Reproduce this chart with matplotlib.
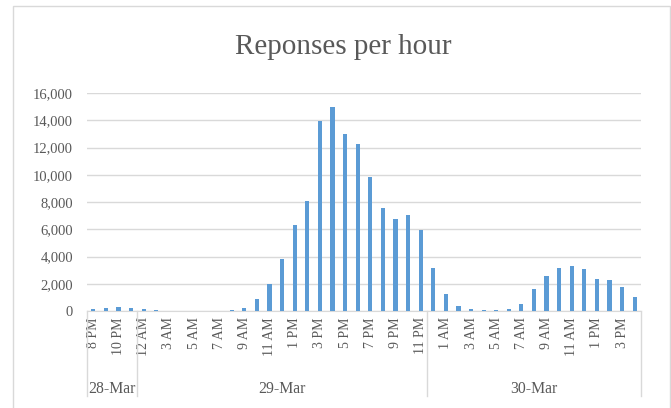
import matplotlib.pyplot as plt
import matplotlib.transforms as mtransforms
from matplotlib.patches import Rectangle
from matplotlib.ticker import FuncFormatter

plt.rcParams['font.family'] = 'Liberation Serif'

# Hourly response counts, grouped by day
dates = ['28-Mar', '29-Mar', '30-Mar']
hours_28 = ['8 PM', '9 PM', '10 PM', '11 PM']
hours_29 = ['12 AM', '1 AM', '3 AM', '4 AM', '5 AM', '6 AM', '7 AM', '8 AM', '9 AM',
            '10 AM', '11 AM', '12 PM', '1 PM', '2 PM', '3 PM', '4 PM', '5 PM', '6 PM',
            '7 PM', '8 PM', '9 PM', '10 PM', '11 PM']
hours_30 = ['12 AM', '1 AM', '2 AM', '3 AM', '4 AM', '5 AM', '6 AM', '7 AM', '8 AM',
            '9 AM', '10 AM', '11 AM', '12 PM', '1 PM', '2 PM', '3 PM', '4 PM']
counts_28 = [120, 220, 300, 220]
counts_29 = [150, 70, 10, 10, 10, 10, 10, 70, 220, 870, 1970, 3800, 6280, 8050,
             13970, 15000, 13000, 12280, 9840, 7550, 6770, 7010, 5980]
counts_30 = [3150, 1220, 400, 180, 110, 110, 160, 530, 1580, 2590, 3120, 3310,
             3090, 2380, 2250, 1730, 1020]

groups = [hours_28, hours_29, hours_30]
labels = hours_28 + hours_29 + hours_30
counts = counts_28 + counts_29 + counts_30
x = list(range(len(labels)))

grey = '#595959'
line_grey = '#D9D9D9'

fig = plt.figure(figsize=(6.71, 4.08), dpi=100)
ax = fig.add_axes([87 / 671, 97 / 408, 554 / 671, 218 / 408])

ax.bar(x, counts, width=0.33, color='#5B9BD5', zorder=3)

ax.set_xlim(-0.5, len(labels) - 0.5)
ax.set_ylim(0, 16000)
ax.set_yticks(range(0, 16001, 2000))
ax.yaxis.set_major_formatter(FuncFormatter(lambda v, p: f'{int(v):,}'))
ax.grid(axis='y', color=line_grey, linewidth=1, zorder=0)

ax.set_xticks(x[::2])
ax.set_xticklabels(labels[::2], rotation=90, va='top')
ax.tick_params(axis='x', length=0, pad=4.5, labelsize=10, labelcolor=grey)
ax.tick_params(axis='y', length=0, pad=10, labelsize=10.5, labelcolor=grey)

for side in ['top', 'right', 'left']:
    ax.spines[side].set_visible(False)
ax.spines['bottom'].set_color(line_grey)

# Separators and day labels under the hour labels
trans = mtransforms.blended_transform_factory(ax.transData, ax.transAxes)
start = -0.5
bounds = [start]
for g in groups:
    start += len(g)
    bounds.append(start)
for b in bounds:
    ax.plot([b, b], [0, -0.39], color=line_grey, linewidth=1,
            transform=trans, clip_on=False)
for d, a, b in zip(dates, bounds[:-1], bounds[1:]):
    ax.text((a + b) / 2, -0.376, d, transform=trans, ha='center', va='baseline',
            fontsize=11.3, color=grey)

fig.text(0.512, 1 - 54 / 408, 'Reponses per hour', ha='center', va='baseline',
         fontsize=21, color=grey)

# Chart frame
fig.patches.append(Rectangle((13 / 671, -0.1), 657 / 671, 1.1 - 6 / 408,
                             transform=fig.transFigure, fill=False,
                             edgecolor=line_grey, linewidth=1))

fig.savefig('out.png', dpi=100)
